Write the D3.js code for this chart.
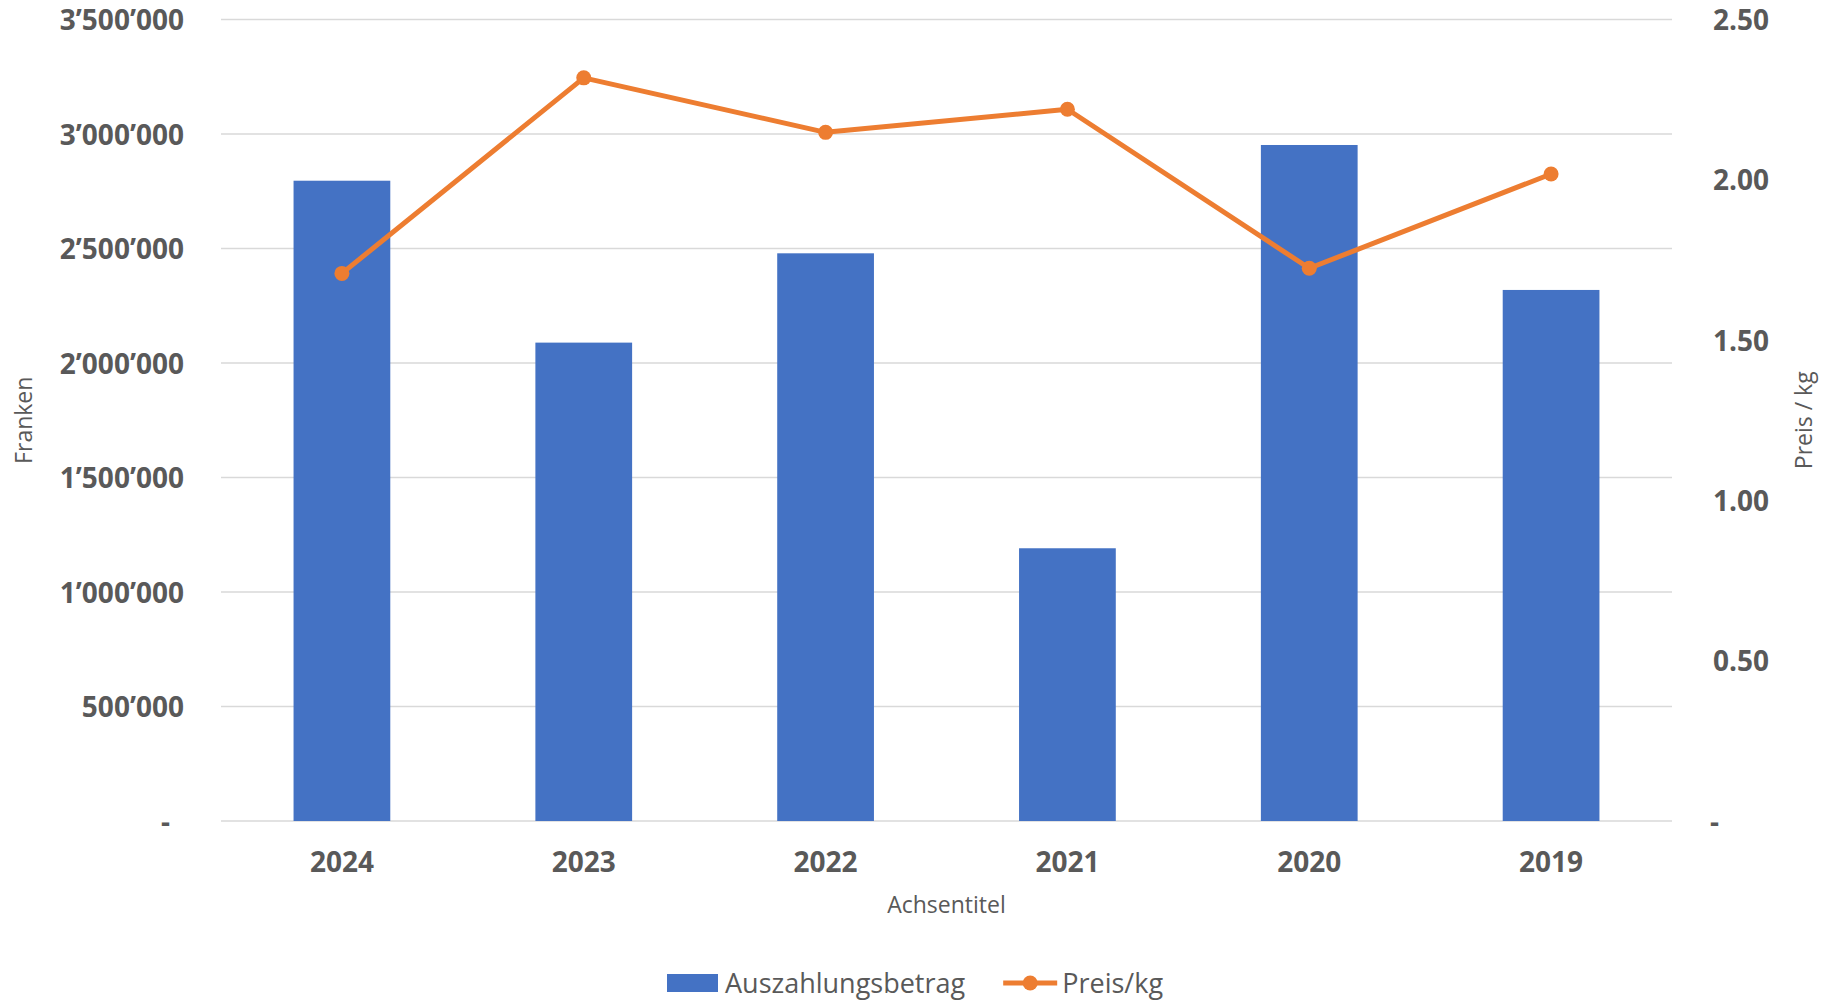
<!DOCTYPE html>
<html>
<head>
<meta charset="utf-8">
<script src="https://cdn.jsdelivr.net/npm/d3@7"></script>
<style>
  body { margin: 0; background: #fff; }
  text { font-family: "Open Sans", sans-serif; fill: #595959; }
</style>
</head>
<body>
<div id="chart"></div>
<script>
// data
const years = ["2024", "2023", "2022", "2021", "2020", "2019"];
const auszahlung = [2796000, 2089000, 2479000, 1191000, 2952000, 2319000];
const preisKg = [1.708, 2.318, 2.148, 2.220, 1.724, 2.018];
const leftTicks = [0, 500000, 1000000, 1500000, 2000000, 2500000, 3000000, 3500000];
const rightTicks = [0, 0.5, 1.0, 1.5, 2.0, 2.5];

const width = 1827;
const height = 1001;
const plot = { left: 221, right: 1672, top: 19.5, bottom: 821 };

const blue = "#4472C4";
const orange = "#ED7D31";

const svg = d3.select("#chart")
    .append("svg")
    .attr("width", width)
    .attr("height", height);

const x = d3.scaleBand()
    .domain(years)
    .range([plot.left, plot.right])
    .paddingInner(0.6)
    .paddingOuter(0.3);

const y = d3.scaleLinear()
    .domain([0, 3500000])
    .range([plot.bottom, plot.top]);

const y2 = d3.scaleLinear()
    .domain([0, 2.5])
    .range([plot.bottom, plot.top]);

const chf = d3.formatLocale({ decimal: ".", thousands: "\u2019", grouping: [3], currency: ["", ""] });
const fmtLeft = v => v === 0 ? "-" : chf.format(",")(v);
const fmtRight = v => v === 0 ? "-" : d3.format(".2f")(v);

// gridlines
svg.append("g")
    .selectAll("line")
    .data(leftTicks)
    .enter()
    .append("line")
    .attr("x1", plot.left)
    .attr("x2", plot.right)
    .attr("y1", d => y(d))
    .attr("y2", d => y(d))
    .attr("stroke", "#d9d9d9")
    .attr("stroke-width", 1.5);

// bars
svg.append("g")
    .selectAll("rect")
    .data(auszahlung)
    .enter()
    .append("rect")
    .attr("x", (d, i) => x(years[i]))
    .attr("width", x.bandwidth())
    .attr("y", d => y(d))
    .attr("height", d => y(0) - y(d))
    .attr("fill", blue);

// line + markers
const cx = (d, i) => x(years[i]) + x.bandwidth() / 2;
const line = d3.line()
    .x(cx)
    .y(d => y2(d));

svg.append("path")
    .datum(preisKg)
    .attr("d", line)
    .attr("fill", "none")
    .attr("stroke", orange)
    .attr("stroke-width", 5)
    .attr("stroke-linejoin", "round");

svg.append("g")
    .selectAll("circle")
    .data(preisKg)
    .enter()
    .append("circle")
    .attr("cx", cx)
    .attr("cy", d => y2(d))
    .attr("r", 7.5)
    .attr("fill", orange);

// axes
const leftAxis = svg.append("g")
    .attr("transform", "translate(184,0)")
    .call(d3.axisLeft(y).tickValues(leftTicks).tickFormat(fmtLeft).tickSize(0).tickPadding(0));

const rightAxis = svg.append("g")
    .attr("transform", "translate(1713,0)")
    .call(d3.axisRight(y2).tickValues(rightTicks).tickFormat(fmtRight).tickSize(0).tickPadding(0));

const bottomAxis = svg.append("g")
    .attr("transform", "translate(0," + plot.bottom + ")")
    .call(d3.axisBottom(x).tickSize(0).tickPadding(0));

[leftAxis, rightAxis, bottomAxis].forEach(g => {
    g.select(".domain").remove();
    g.selectAll("text")
        .style("font-family", "'Open Sans', sans-serif")
        .style("font-size", "28px")
        .style("font-weight", "bold")
        .attr("fill", "#595959");
});

leftAxis.selectAll("text").attr("dy", "0.36em");
rightAxis.selectAll("text").attr("dy", "0.36em");
leftAxis.selectAll("text").filter(d => d === 0).attr("x", -14);
rightAxis.selectAll("text").filter(d => d === 0).attr("x", -3).attr("text-anchor", "start");
bottomAxis.selectAll("text").attr("y", 51).attr("dy", 0);

// axis titles
svg.append("text")
    .attr("x", (plot.left + plot.right) / 2)
    .attr("y", 913)
    .attr("text-anchor", "middle")
    .style("font-size", "23px")
    .text("Achsentitel");

svg.append("text")
    .attr("transform", "translate(32," + (plot.top + plot.bottom) / 2 + ") rotate(-90)")
    .attr("text-anchor", "middle")
    .style("font-size", "23px")
    .text("Franken");

svg.append("text")
    .attr("transform", "translate(1812," + (plot.top + plot.bottom) / 2 + ") rotate(-90)")
    .attr("text-anchor", "middle")
    .style("font-size", "23px")
    .text("Preis / kg");

// legend
const legend = svg.append("g");
const legY = 983;

legend.append("rect")
    .attr("x", 667)
    .attr("y", legY - 9)
    .attr("width", 51)
    .attr("height", 18)
    .attr("fill", blue);

const t1 = legend.append("text")
    .attr("x", 725)
    .attr("y", legY)
    .attr("dy", "0.36em")
    .style("font-size", "27px")
    .text("Auszahlungsbetrag");

const end1 = 725 + t1.node().getComputedTextLength();
const lx = end1 + 38;

legend.append("line")
    .attr("x1", lx)
    .attr("x2", lx + 54)
    .attr("y1", legY)
    .attr("y2", legY)
    .attr("stroke", orange)
    .attr("stroke-width", 5);

legend.append("circle")
    .attr("cx", lx + 27)
    .attr("cy", legY)
    .attr("r", 7.5)
    .attr("fill", orange);

legend.append("text")
    .attr("x", lx + 59)
    .attr("y", legY)
    .attr("dy", "0.36em")
    .style("font-size", "27px")
    .text("Preis/kg");
</script>
</body>
</html>
